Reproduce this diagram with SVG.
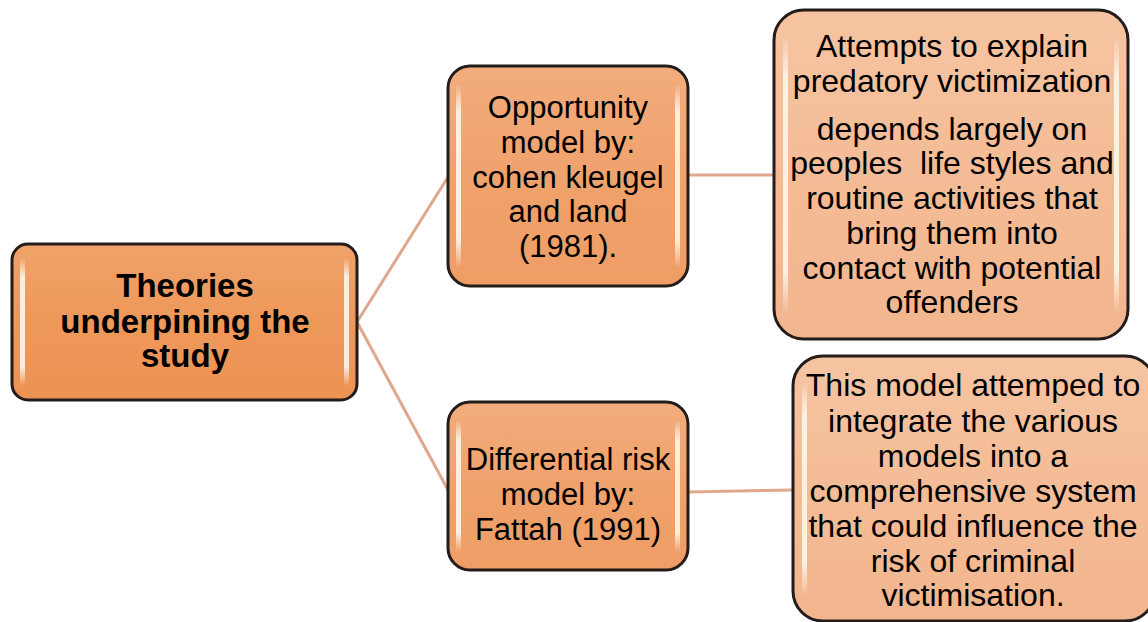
<svg xmlns="http://www.w3.org/2000/svg" width="1148" height="622" viewBox="0 0 1148 622">
<defs>
<linearGradient id="gRoot" x1="0" y1="0" x2="0" y2="1">
<stop offset="0" stop-color="#F0A26A"/><stop offset="0.5" stop-color="#EE9859"/><stop offset="1" stop-color="#EC9353"/>
</linearGradient>
<linearGradient id="gMid" x1="0" y1="0" x2="0" y2="1">
<stop offset="0" stop-color="#F2AC7C"/><stop offset="0.5" stop-color="#F0A26C"/><stop offset="1" stop-color="#EE9D65"/>
</linearGradient>
<linearGradient id="gRight" x1="0" y1="0" x2="0" y2="1">
<stop offset="0" stop-color="#F6C4A2"/><stop offset="0.5" stop-color="#F4BC96"/><stop offset="1" stop-color="#F2B68E"/>
</linearGradient>
<linearGradient id="gHi" x1="0" y1="0" x2="0" y2="1">
<stop offset="0" stop-color="#FFFFFF" stop-opacity="0"/><stop offset="0.15" stop-color="#FFF6E8" stop-opacity="0.9"/><stop offset="0.85" stop-color="#FFF6E8" stop-opacity="0.9"/><stop offset="1" stop-color="#FFFFFF" stop-opacity="0"/>
</linearGradient>
</defs>
<style>
.box{stroke:#231c1a;stroke-width:3}
.hi{fill:url(#gHi)}
.t{font-family:"Liberation Sans",Arial,sans-serif;fill:#000;text-anchor:middle}
.tb{font-weight:bold;font-size:33px}
.tm{font-size:31px}
.tr{font-size:32px}
.con{stroke:#DFA88C;stroke-width:3;fill:none}
</style>
<g id="connectors">
<line class="con" x1="357" y1="322" x2="448" y2="177"/>
<line class="con" x1="357" y1="322" x2="448" y2="490"/>
<line class="con" x1="688" y1="175" x2="774" y2="175"/>
<line class="con" x1="688" y1="492" x2="793" y2="490"/>
</g>
<g id="root">
<rect class="box" x="12" y="244" width="345" height="156" rx="16" fill="url(#gRoot)"/>
<rect class="hi" x="20" y="258" width="5" height="128" rx="2.5"/>
<rect class="hi" x="344" y="258" width="5" height="128" rx="2.5"/>
<text class="t tb" x="185" y="297">Theories</text>
<text class="t tb" x="185" y="333">underpining the</text>
<text class="t tb" x="185" y="367">study</text>
</g>
<g id="opportunity">
<rect class="box" x="448" y="66" width="240" height="220" rx="22" fill="url(#gMid)"/>
<rect class="hi" x="456" y="84" width="5" height="184" rx="2.5"/>
<rect class="hi" x="675" y="84" width="5" height="184" rx="2.5"/>
<text class="t tm" x="568" y="118">Opportunity</text>
<text class="t tm" x="568" y="153">model by:</text>
<text class="t tm" x="568" y="188">cohen kleugel</text>
<text class="t tm" x="568" y="222">and land</text>
<text class="t tm" x="568" y="257">(1981).</text>
</g>
<g id="differential">
<rect class="box" x="448" y="402" width="240" height="168" rx="22" fill="url(#gMid)"/>
<rect class="hi" x="456" y="420" width="5" height="132" rx="2.5"/>
<rect class="hi" x="675" y="420" width="5" height="132" rx="2.5"/>
<text class="t tm" x="568" y="470">Differential risk</text>
<text class="t tm" x="568" y="505">model by:</text>
<text class="t tm" x="568" y="540">Fattah (1991)</text>
</g>
<g id="opportunity-desc">
<rect class="box" x="774" y="10" width="354" height="329" rx="30" fill="url(#gRight)"/>
<rect class="hi" x="783" y="36" width="5" height="277" rx="2.5"/>
<rect class="hi" x="1114" y="36" width="5" height="277" rx="2.5"/>
<text class="t tr" x="952" y="57">Attempts to explain</text>
<text class="t tr" x="952" y="92">predatory victimization</text>
<text class="t tr" x="952" y="140">depends largely on</text>
<text class="t tr" x="952" y="174" xml:space="preserve">peoples  life styles and</text>
<text class="t tr" x="952" y="209">routine activities that</text>
<text class="t tr" x="952" y="244">bring them into</text>
<text class="t tr" x="952" y="279">contact with potential</text>
<text class="t tr" x="952" y="313">offenders</text>
</g>
<g id="differential-desc">
<rect class="box" x="793" y="356" width="362" height="265" rx="30" fill="url(#gRight)"/>
<rect class="hi" x="802" y="382" width="5" height="213" rx="2.5"/>
<text class="t tr" x="973" y="396">This model attemped to</text>
<text class="t tr" x="973" y="432">integrate the various</text>
<text class="t tr" x="973" y="467">models into a</text>
<text class="t tr" x="973" y="502">comprehensive system</text>
<text class="t tr" x="973" y="537">that could influence the</text>
<text class="t tr" x="973" y="572">risk of criminal</text>
<text class="t tr" x="973" y="606">victimisation.</text>
</g>
</svg>
